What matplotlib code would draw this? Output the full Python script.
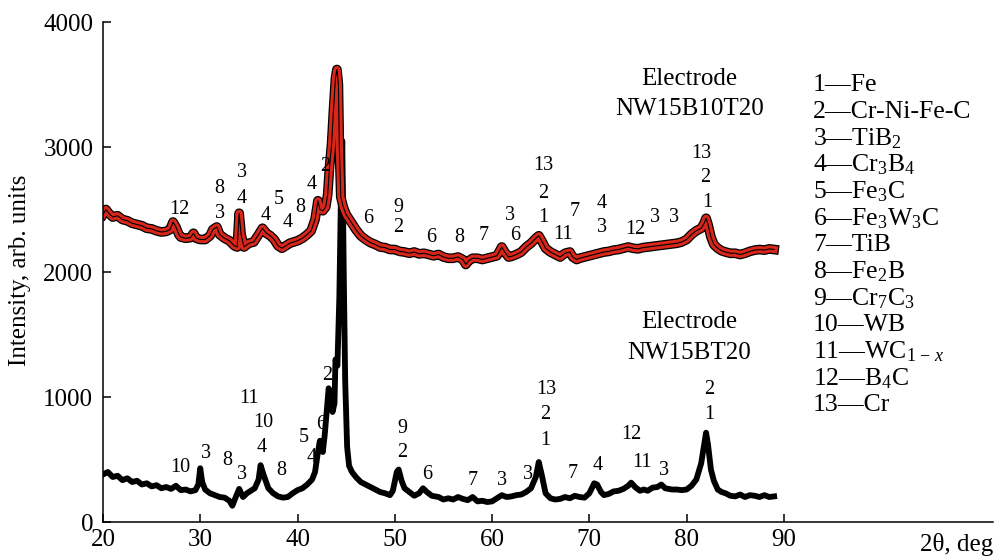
import matplotlib
matplotlib.use("Agg")
import matplotlib.pyplot as plt
import numpy as np

plt.rcParams['font.family'] = ['Liberation Serif', 'DejaVu Serif']
plt.rcParams['mathtext.fontset'] = 'custom'
plt.rcParams['mathtext.rm'] = 'Liberation Serif'
plt.rcParams['mathtext.it'] = 'Liberation Serif:italic'

# difractograma: eletrodo NW15B10T20 (curva vermelha, em cima)
theta_b10 = [20.0, 20.3, 20.6, 21.0, 21.5, 22.0, 22.5, 23.0, 23.5, 24.0, 24.5, 25.0, 25.5, 26.0, 26.5,
             26.9, 27.2, 27.5, 27.8, 28.0, 28.5, 29.0, 29.3, 29.6, 30.0, 30.5, 31.0, 31.3, 31.7, 32.0,
             32.5, 33.0, 33.5, 33.8, 34.0, 34.2, 34.5, 35.0, 35.5, 36.0, 36.4, 36.8, 37.2, 37.6, 38.0,
             38.4, 38.8, 39.2, 39.6, 40.0, 40.5, 41.0, 41.4, 41.8, 42.1, 42.3, 42.6, 42.9, 43.1, 43.3,
             43.5, 43.7, 43.9, 44.05, 44.2, 44.3, 44.45, 44.7, 45.0, 45.5, 46.0, 46.5, 47.0, 47.5, 48.0,
             48.5, 49.0, 49.5, 50.0, 50.5, 51.0, 51.5, 52.0, 52.5, 53.0, 53.5, 54.0, 54.5, 55.0, 55.5,
             56.0, 56.5, 57.0, 57.3, 57.6, 58.0, 58.5, 59.0, 59.5, 60.0, 60.5, 61.0, 61.3, 61.7, 62.0,
             62.5, 63.0, 63.5, 64.0, 64.5, 64.8, 65.1, 65.5, 66.0, 66.5, 67.0, 67.5, 68.0, 68.3, 68.7,
             69.0, 69.5, 70.0, 70.5, 71.0, 71.5, 72.0, 72.5, 73.0, 73.5, 74.0, 74.5, 75.0, 75.5, 76.0,
             76.5, 77.0, 77.5, 78.0, 78.5, 79.0, 79.5, 80.0, 80.5, 81.0, 81.5, 81.8, 82.0, 82.2, 82.5,
             82.8, 83.2, 83.6, 84.0, 84.5, 85.0, 85.5, 86.0, 86.5, 87.0, 87.5, 88.0, 88.5, 89.0]
int_b10 = [2460, 2500, 2470, 2440, 2450, 2420, 2410, 2390, 2380, 2370, 2350, 2345, 2330, 2320, 2325,
           2340, 2400, 2360, 2300, 2280, 2270, 2275, 2310, 2270, 2260, 2260, 2290, 2340, 2360, 2300,
           2270, 2250, 2210, 2200, 2470, 2300, 2200, 2230, 2240, 2300, 2350, 2310, 2290, 2260, 2210,
           2190, 2210, 2230, 2240, 2250, 2270, 2300, 2330, 2420, 2570, 2500, 2490, 2520, 2620, 2850,
           3020, 3300, 3550, 3620, 3500, 3000, 2600, 2520, 2460, 2400, 2340, 2290, 2260, 2235, 2220,
           2200, 2195, 2180, 2180, 2165, 2160, 2150, 2160, 2145, 2150, 2140, 2130, 2140, 2120, 2110,
           2110, 2120, 2100, 2060, 2090, 2110, 2110, 2100, 2110, 2120, 2130, 2200, 2160, 2120, 2125,
           2140, 2160, 2200, 2230, 2270, 2290, 2250, 2190, 2160, 2140, 2120, 2150, 2160, 2120, 2100,
           2110, 2120, 2130, 2140, 2150, 2160, 2165, 2175, 2180, 2190, 2200, 2190, 2185, 2195, 2200,
           2205, 2210, 2215, 2220, 2225, 2230, 2240, 2260, 2300, 2330, 2350, 2390, 2430, 2380, 2280,
           2220, 2190, 2170, 2160, 2150, 2150, 2140, 2150, 2165, 2175, 2180, 2175, 2185, 2180]

# difractograma: eletrodo NW15BT20 (curva preta, embaixo)
theta_bt = [20.0, 20.5, 21.0, 21.5, 22.0, 22.5, 23.0, 23.5, 24.0, 24.5, 25.0, 25.5, 26.0, 26.5, 27.0,
            27.5, 28.0, 28.5, 29.0, 29.5, 29.8, 30.0, 30.2, 30.5, 31.0, 31.5, 32.0, 32.5, 33.0, 33.3,
            33.6, 34.0, 34.4, 34.8, 35.2, 35.6, 36.0, 36.2, 36.5, 37.0, 37.5, 38.0, 38.5, 39.0, 39.5,
            40.0, 40.5, 41.0, 41.5, 41.8, 42.1, 42.3, 42.6, 42.8, 43.0, 43.2, 43.4, 43.6, 43.8, 43.9,
            44.1, 44.3, 44.5, 44.6, 44.75, 44.9, 45.1, 45.3, 45.6, 46.0, 46.5, 47.0, 47.5, 48.0, 48.5,
            49.0, 49.5, 49.8, 50.2, 50.4, 50.7, 51.0, 51.5, 52.0, 52.5, 52.9, 53.3, 53.8, 54.5, 55.0,
            55.5, 56.0, 56.5, 57.0, 57.5, 58.0, 58.5, 59.0, 59.5, 60.0, 60.5, 61.0, 61.5, 62.0, 62.5,
            63.0, 63.5, 64.0, 64.5, 64.8, 65.1, 65.5, 66.0, 66.5, 67.0, 67.5, 68.0, 68.5, 69.0, 69.5,
            70.0, 70.5, 70.8, 71.2, 71.5, 72.0, 72.5, 73.0, 73.5, 74.0, 74.3, 74.7, 75.2, 75.6, 76.0,
            76.5, 77.0, 77.4, 77.8, 78.5, 79.0, 79.5, 80.0, 80.5, 81.0, 81.5, 81.8, 82.0, 82.2, 82.5,
            82.8, 83.2, 83.6, 84.0, 84.5, 85.0, 85.5, 86.0, 86.5, 87.0, 87.5, 88.0, 88.5, 89.0]
int_bt = [380, 400, 360, 370, 335, 350, 320, 330, 300, 310, 285, 295, 270, 280, 265,
          290, 255, 260, 245, 255, 300, 430, 320, 260, 230, 215, 200, 195, 170, 130,
          190, 265, 200, 230, 250, 270, 340, 455, 380, 270, 230, 205, 195, 200, 230,
          255, 270, 300, 340, 400, 560, 650, 560, 700, 880, 1070, 1000, 880, 950, 1300,
          1250, 1800, 2800, 3050, 2000, 1130, 600, 450, 400, 360, 320, 300, 280, 260, 240,
          230, 215, 250, 400, 420, 330, 270, 240, 210, 230, 270, 240, 210, 200, 180,
          190, 180, 200, 185, 175, 200, 165, 170, 160, 165, 190, 215, 200, 205, 215,
          220, 240, 270, 360, 480, 380, 230, 190, 180, 185, 200, 190, 210, 200, 195,
          230, 310, 300, 240, 215, 225, 245, 250, 265, 290, 315, 280, 250, 260, 250,
          275, 280, 300, 270, 260, 260, 255, 260, 290, 340, 470, 620, 715, 620, 420,
          330, 260, 240, 230, 210, 205, 220, 200, 215, 210, 200, 215, 200, 205]

# rotulos dos picos: (2theta, intensidade, texto)
picos_b10 = [(27.9, 2504, '12'), (32.0, 2672, '8'), (32.0, 2472, '3'), (34.3, 2800, '3'),
             (34.3, 2592, '4'), (36.7, 2456, '4'), (38.1, 2584, '5'), (39.0, 2400, '4'),
             (40.3, 2520, '8'), (41.5, 2704, '4'), (42.8, 2848, '2'), (47.3, 2432, '6'),
             (50.4, 2520, '9'), (50.4, 2360, '2'), (53.7, 2280, '6'), (56.6, 2280, '8'),
             (59.1, 2296, '7'), (61.8, 2456, '3'), (62.4, 2296, '6'), (65.3, 2856, '13'),
             (65.3, 2632, '2'), (65.3, 2440, '1'), (67.3, 2304, '11'), (68.5, 2488, '7'),
             (71.3, 2552, '4'), (71.3, 2360, '3'), (74.7, 2344, '12'), (76.8, 2440, '3'),
             (78.7, 2440, '3'), (81.5, 2952, '13'), (81.9, 2760, '2'), (82.1, 2560, '1')]
picos_bt = [(27.9, 440, '10'), (30.6, 552, '3'), (32.8, 496, '8'), (34.3, 384, '3'),
            (35.0, 992, '11'), (36.5, 800, '10'), (36.3, 600, '4'), (38.3, 416, '8'),
            (40.6, 680, '5'), (42.4, 784, '6'), (41.5, 520, '4'), (43.1, 1176, '2'),
            (50.8, 752, '9'), (50.8, 560, '2'), (53.3, 384, '6'), (58.0, 336, '7'),
            (61.0, 336, '3'), (63.7, 384, '3'), (65.6, 1064, '13'), (65.5, 864, '2'),
            (65.5, 656, '1'), (68.3, 392, '7'), (70.9, 456, '4'), (74.3, 704, '12'),
            (75.4, 480, '11'), (77.7, 416, '3'), (82.3, 1064, '2'), (82.3, 864, '1')]

fases = ['1—Fe', '2—Cr-Ni-Fe-C', '3—TiB$_2$', '4—Cr$_3$B$_4$', '5—Fe$_3$C', '6—Fe$_3$W$_3$C',
         '7—TiB', '8—Fe$_2$B', '9—Cr$_7$C$_3$', '10—WB', '11—WC$_{1\\,-\\,x}$', '12—B$_4$C', '13—Cr']

fig = plt.figure(figsize=(9.95, 5.57), dpi=100)
ax = fig.add_axes([0.1035, 0.0628, 0.8945, 0.8977])

ax.plot(theta_bt, int_bt, color='black', lw=4.2, solid_joinstyle='round')
ax.plot(theta_b10, int_b10, color='black', lw=7, solid_joinstyle='round')
ax.plot(theta_b10, int_b10, color='#d8261a', lw=5.2, solid_joinstyle='round')
ax.plot(theta_b10, int_b10, color='black', lw=0.8)

for x, y, s in picos_b10 + picos_bt:
    ax.text(x, y, s, fontsize=14.5, ha='center', va='center')

ax.text(80.3, 3544, 'Electrode', fontsize=18, ha='center', va='center')
ax.text(80.3, 3304, 'NW15B10T20', fontsize=18, ha='center', va='center')
ax.text(80.3, 1600, 'Electrode', fontsize=18, ha='center', va='center')
ax.text(80.3, 1352, 'NW15BT20', fontsize=18, ha='center', va='center')

for i, f in enumerate(fases):
    fig.text(813 / 995, 1 - (85 + i * 26.7) / 557, f, fontsize=18.5, ha='left', va='center')

ax.set_xlim(20, 111.5)
ax.set_ylim(0, 4000)
ax.set_xticks([20, 30, 40, 50, 60, 70, 80, 90])
ax.set_yticks([0, 1000, 2000, 3000, 4000])
ax.spines['top'].set_visible(False)
ax.spines['right'].set_visible(False)
ax.spines['left'].set_linewidth(1.1)
ax.spines['bottom'].set_linewidth(1.1)
ax.tick_params(direction='in', length=6, width=1.1, labelsize=18)
ax.tick_params(axis='y', pad=7)
ax.tick_params(axis='x', pad=5)

fig.text(20 / 995, 1 - 270 / 557, 'Intensity, arb. units', rotation=90, fontsize=18,
         ha='center', va='center')
fig.text(0.998, 1 - 545 / 557, '2θ, deg', fontsize=18, ha='right', va='center')

fig.savefig('out.png', dpi=100)
